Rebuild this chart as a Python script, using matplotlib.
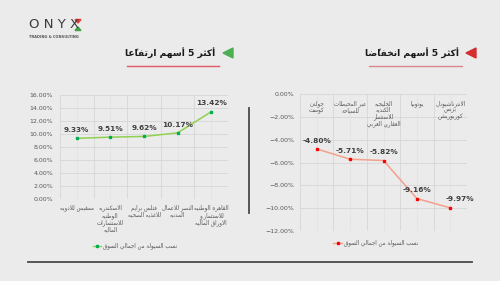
import matplotlib.pyplot as plt
from matplotlib.ticker import PercentFormatter, MultipleLocator

# Top 5 gainers (liquidity share of total market, %)
up_names = ['ممفيس للادويه',
            'الاسكندريه\nالوطنيه\nللاستثمارات\nالماليه',
            'فتلس برايم\nللاغذيه الصحيه',
            'النصر للاعمال\nالمدنيه',
            'القاهره الوطنيه\nللاستثمار و\nالاوراق الماليه']
up_values = [9.33, 9.51, 9.62, 10.17, 13.42]

# Top 5 losers
down_names = ['جولدن\nكوست',
              'عبر المحيطات\nللسياحة',
              'الخليجيه\nالكنديه\nللاستثمار\nالعقاري العربي',
              'يوتوبيا',
              'الانترناشيونال\nبزنس\nكوربوريشن']
down_values = [-4.80, -5.71, -5.82, -9.16, -9.97]

legend_label = 'نسب السيولة من اجمالي السوق'
title_up = 'أكثر 5 أسهم ارتفاعًا'
title_down = 'أكثر 5 أسهم انخفاضًا'

# --- tiny Arabic shaper (matplotlib has no shaping / RTL) ---
_order = 'آأؤإئابةتثجحخدذرزسشصضطظعغفقكلمنهوىي'
_dual = set('ئبتثجحخسشصضطظعغفقكلمنهي')
_forms = {}
_cp = 0xFE81
for _ch in _order:
    _n = 4 if _ch in _dual else 2
    _forms[_ch] = [chr(_cp + k) for k in range(_n)]
    _cp += _n
_lamalef = {'ا': 0xFEFB, 'أ': 0xFEF7, 'إ': 0xFEF9, 'آ': 0xFEF5}


def _jtype(base):
    if base.startswith('LA'):
        return 'R'
    if base in _dual:
        return 'D'
    if base in _forms:
        return 'R'
    return 'N'


def ar(text):
    out = []
    for line in text.split('\n'):
        cl = []
        for ch in line:
            if '\u064b' <= ch <= '\u0652' and cl:
                cl[-1][1] += ch
            elif cl and cl[-1][0] == 'ل' and not cl[-1][1] and ch in _lamalef:
                cl[-1][0] = 'LA' + ch
            else:
                cl.append([ch, ''])
        glyphs = []
        for i, (base, marks) in enumerate(cl):
            t = _jtype(base)
            prev = i > 0 and _jtype(cl[i - 1][0]) == 'D'
            nxt = t == 'D' and i + 1 < len(cl) and _jtype(cl[i + 1][0]) in ('D', 'R')
            if base.startswith('LA'):
                g = chr(_lamalef[base[2]] + (1 if prev else 0))
            elif t == 'D':
                g = _forms[base][3 if prev and nxt else 1 if prev else 2 if nxt else 0]
            elif t == 'R':
                g = _forms[base][1 if prev else 0]
            else:
                g = base
            glyphs.append(g + marks)
        out.append(''.join(reversed(glyphs)))
    return '\n'.join(out)


bg = '#ebebeb'
grid_c = '#d6d6d6'
tick_c = '#595959'
lab_c = '#404040'

fig = plt.figure(figsize=(5, 2.81), dpi=100, facecolor=bg)

# decoration layer in pixel coordinates
deco = fig.add_axes([0, 0, 1, 1])
deco.set_xlim(0, 500)
deco.set_ylim(281, 0)
deco.axis('off')

# logo
deco.text(54, 25, 'O N Y X', ha='center', va='center', fontsize=9.5,
          color='#3a3a3a', fontfamily='DejaVu Sans')
deco.fill([75, 81, 78], [19.5, 19.5, 23], color='#e53935')
deco.fill([75, 81, 78], [30.5, 30.5, 27], color='#43a047')
deco.text(54, 37.5, 'TRADING & CONSULTING', ha='center', va='center',
          fontsize=2.6, color='#555555', fontweight='bold')

# section titles
deco.text(215, 53, ar(title_up), ha='right', va='center', fontsize=6.6,
          fontweight='bold', color='#1a1a1a')
deco.fill([223, 233, 233], [53, 48, 58], color='#4caf50')
deco.plot([127, 219], [66, 66], color='#e05a63', lw=1)

deco.text(459, 53, ar(title_down), ha='right', va='center', fontsize=6.6,
          fontweight='bold', color='#1a1a1a')
deco.fill([466, 476, 476], [53, 48, 58], color='#d32f2f')
deco.plot([369, 462], [66, 66], color='#d9868c', lw=1)

# divider and bottom rule
deco.plot([249, 249], [108, 213], color='#4a4a4a', lw=1.3)
deco.plot([28, 472], [262, 262], color='#4a4a4a', lw=1.3)

# legends
deco.plot([93, 101], [246, 246], color='#92d050', lw=1)
deco.plot([97], [246], marker='s', ms=1.8, color='#00b050')
deco.text(103, 246, ar(legend_label), ha='left', va='center', fontsize=4,
          color=tick_c)
deco.plot([333, 342], [243, 243], color='#f4a08c', lw=1)
deco.plot([337.5], [243], marker='s', ms=1.8, color='#ff0000')
deco.text(344, 243, ar(legend_label), ha='left', va='center', fontsize=4,
          color=tick_c)


def style(ax):
    ax.set_facecolor('none')
    for s in ax.spines.values():
        s.set_visible(False)
    ax.yaxis.set_major_formatter(PercentFormatter(xmax=100, decimals=2))
    ax.yaxis.set_major_locator(MultipleLocator(2))
    ax.tick_params(length=0, labelsize=4.5, labelcolor=tick_c)
    ax.set_xlim(-0.5, 4.5)
    ax.grid(axis='y', color=grid_c, lw=0.6)
    for x in range(6):
        ax.axvline(x - 0.5, color=grid_c, lw=0.6, zorder=0)
    for x in range(5):
        ax.axvline(x, color=grid_c, lw=0.4, alpha=0.6, zorder=0)
    ax.set_axisbelow(True)


# left chart: gainers
ax1 = fig.add_axes([0.12, 0.292, 0.336, 0.370])
style(ax1)
ax1.set_ylim(0, 16)
ax1.plot(range(5), up_values, color='#92d050', lw=1.1, marker='s', ms=1.8,
         mfc='#00b050', mec='#00b050')
for i, v in enumerate(up_values):
    ax1.annotate(f'{v:.2f}%', (i, v), xytext=(0, 6), textcoords='offset points',
                 ha='center', va='center', fontsize=5.3, fontweight='bold', color=lab_c)
ax1.set_xticks(range(5))
ax1.set_xticklabels([ar(n) for n in up_names], fontsize=4, color=tick_c,
                    linespacing=1.1)
ax1.tick_params(axis='x', pad=4)
ax1.tick_params(axis='y', pad=5)

# right chart: losers
ax2 = fig.add_axes([0.60, 0.178, 0.334, 0.487])
style(ax2)
ax2.set_ylim(-12, 0)
ax2.set_xticks([])
ax2.plot(range(5), down_values, color='#f4a08c', lw=1.1, marker='s', ms=1.8,
         mfc='#ff0000', mec='#ff0000')
for i, v in enumerate(down_values):
    dx = 7 if i == 4 else 0
    ax2.annotate(f'{v:.2f}%', (i, v), xytext=(dx, 6), textcoords='offset points',
                 ha='center', va='center', fontsize=5.3, fontweight='bold', color=lab_c)
for i, n in enumerate(down_names):
    ax2.text(i, -0.55, ar(n), ha='center', va='top', fontsize=4, color=tick_c,
             linespacing=1.1)
ax2.tick_params(axis='y', pad=4)

fig.savefig('out.png', dpi=100, facecolor=bg)
